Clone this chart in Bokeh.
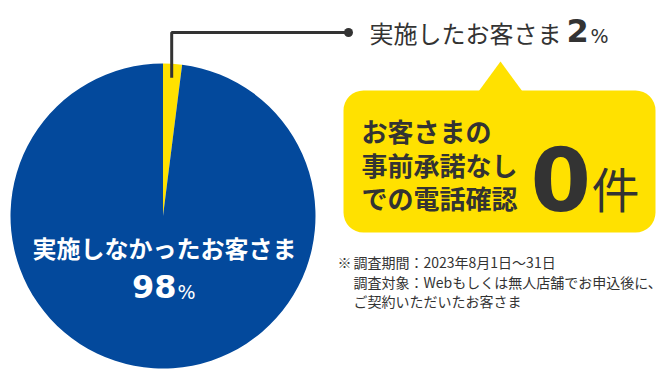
import numpy as np
from bokeh.plotting import figure
from bokeh.models import Range1d
from bokeh.core.properties import value
from bokeh.embed import file_html
from bokeh.resources import INLINE

# ---- data ----
categories = ["実施したお客さま", "実施しなかったお客さま"]
shares = [2, 98]
slice_colors = ["#ffe100", "#03499c"]
callout_lines = ["お客さまの", "事前承諾なし", "での電話確認"]
callout_count = 0
callout_unit = "件"
note_mark = "※"
note_lines = ["調査期間：2023年8月1日〜31日",
              "調査対象：Webもしくは無人店舗でお申込後に、",
              "ご契約いただいたお客さま"]

W, H = 671, 378
FONT = value("Noto Sans CJK JP")
NUM = value("DejaVu Sans")
DARK = "#333333"


def Y(v):
    return H - np.asarray(v, dtype=float)


p = figure(width=W, height=H, x_range=Range1d(0, W), y_range=Range1d(0, H),
           output_backend="svg", toolbar_location=None,
           x_axis_location=None, y_axis_location=None, min_border=0)
p.grid.visible = False
p.outline_line_color = None

# ---- pie ----
cx, cy, r = 162.5, float(Y(215.5)), 152.5
fr = np.array(shares, dtype=float) / sum(shares)
ends = np.pi / 2 - 2 * np.pi * np.cumsum(fr)
starts = np.concatenate([[np.pi / 2], ends[:-1]])
p.wedge(x=cx, y=cy, radius=r, start_angle=list(starts), end_angle=list(ends),
        direction="clock", fill_color=slice_colors, line_color=None)

# leader line from middle of small slice
mid = (starts[0] + ends[0]) / 2
d = 138.5
lx = cx + d * np.cos(mid)
ly = cy + d * np.sin(mid)
top_y = float(Y(32))
p.line(x=[lx, lx, 348], y=[ly, top_y, top_y], line_color=DARK, line_width=3)
p.scatter(x=[348], y=[top_y], size=9, fill_color=DARK, line_color=None)

# label of small slice
p.text(x=[369], y=[float(Y(32))], text=[categories[0]], text_font=FONT,
       text_font_size="24px", text_color=DARK, text_baseline="middle",
       text_align="left")
p.text(x=[566], y=[float(Y(30))], text=[str(shares[0])], text_font=NUM,
       text_font_size="32px", text_font_style="bold", text_color=DARK,
       text_baseline="middle", text_align="left")
p.text(x=[590], y=[float(Y(35))], text=["%"], text_font=NUM,
       text_font_size="19px", text_color=DARK, text_baseline="middle",
       text_align="left")

# label inside big slice
p.text(x=[164], y=[float(Y(247))], text=[categories[1]], text_font=FONT,
       text_font_size="24px", text_font_style="bold", text_color="white",
       text_baseline="middle", text_align="center")
p.text(x=[176], y=[float(Y(286))], text=[str(shares[1])], text_font=NUM,
       text_font_size="32px", text_font_style="bold", text_color="white",
       text_baseline="middle", text_align="right")
p.text(x=[177], y=[float(Y(291.5))], text=["%"], text_font=NUM,
       text_font_size="19px", text_color="white",
       text_baseline="middle", text_align="left")

# ---- callout box ----
p.quad(left=[343], right=[655], top=[float(Y(90))], bottom=[float(Y(232))],
       fill_color=slice_colors[0], line_color=None, border_radius=20)
p.patch(x=[478, 500, 522], y=list(Y([91, 61, 91])),
        fill_color=slice_colors[0], line_color=None)

p.text(x=[361] * 3, y=list(Y([130, 164, 197])), text=callout_lines, text_font=FONT,
       text_font_size="26px", text_font_style="bold", text_color=DARK,
       text_baseline="middle", text_align="left")
p.text(x=[530], y=[float(Y(178.5))], text=[str(callout_count)], text_font=NUM,
       text_font_size="87px", text_font_style="bold", text_color=DARK,
       text_baseline="middle", text_align="left")
p.text(x=[591], y=[float(Y(186))], text=[callout_unit], text_font=FONT,
       text_font_size="48px", text_color=DARK,
       text_baseline="middle", text_align="left")

# ---- note ----
p.text(x=[337], y=[float(Y(261))], text=[note_mark], text_font=FONT,
       text_font_size="14px", text_color=DARK, text_baseline="middle",
       text_align="left")
p.text(x=[353] * 3, y=list(Y([261, 281, 300])), text=note_lines, text_font=FONT,
       text_font_size="14px", text_color=DARK, text_baseline="middle",
       text_align="left")

open("out.html", "w").write(file_html(p, INLINE))
